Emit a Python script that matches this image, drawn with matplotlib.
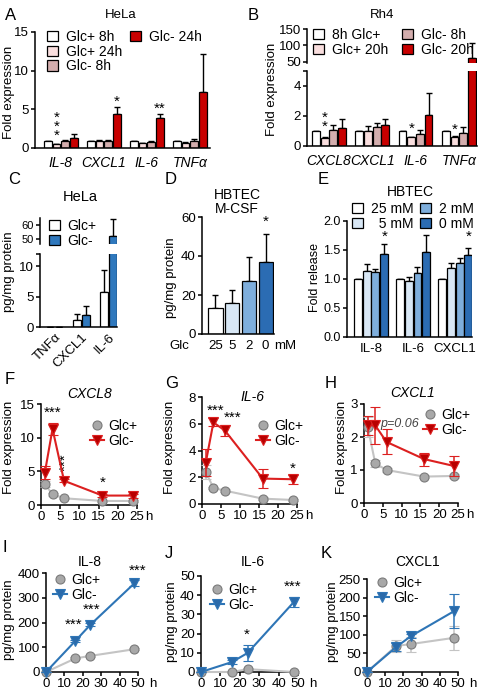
import matplotlib
matplotlib.use('Agg')
import matplotlib.pyplot as plt
import numpy as np
from matplotlib.patches import Patch
from matplotlib.lines import Line2D

plt.rcParams['font.family'] = ['Liberation Sans', 'DejaVu Sans']
plt.rcParams['font.size'] = 9.5
plt.rcParams['axes.linewidth'] = 1.1
for k in ['xtick', 'ytick']:
    plt.rcParams[k + '.major.width'] = 1.1
    plt.rcParams[k + '.major.size'] = 3
    plt.rcParams[k + '.major.pad'] = 1.5
    plt.rcParams[k + '.labelsize'] = 9.5

# ---------------- data ----------------
# A: HeLa qPCR
a_genes = ['IL-8', 'CXCL1', 'IL-6', 'TNFα']
a_labels = ['Glc+ 8h', 'Glc+ 24h', 'Glc- 8h', 'Glc- 24h']
a_vals = [[0.9, 0.9, 0.9, 0.9],
          [0.5, 0.85, 0.6, 0.7],
          [0.95, 0.9, 0.75, 0.85],
          [1.35, 4.35, 3.85, 7.3]]
a_err = [[0.0, 0.0, 0.0, 0.0],
         [0.05, 0.15, 0.05, 0.08],
         [0.1, 0.1, 0.12, 0.3],
         [0.4, 0.95, 0.5, 4.9]]

# B: Rh4 qPCR
b_genes = ['CXCL8', 'CXCL1', 'IL-6', 'TNFα']
b_labels = ['8h Glc+', 'Glc+ 20h', 'Glc- 8h', 'Glc- 20h']
b_vals = [[1.0, 0.95, 0.95, 0.95],
          [0.5, 1.0, 0.55, 0.6],
          [1.05, 1.25, 0.75, 0.85],
          [1.2, 1.35, 2.05, 62.5]]
b_err = [[0.0, 0.0, 0.0, 0.0],
         [0.05, 0.3, 0.05, 0.05],
         [0.35, 0.25, 0.3, 0.4],
         [0.55, 0.45, 1.45, 45.0]]

# C: HeLa ELISA
c_cats = ['TNFα', 'CXCL1', 'IL-6']
c_glcp = [0, 1.2, 5.8]
c_glcp_err = [0, 1.0, 3.7]
c_glcm = [0, 2.0, 52.0]
c_glcm_err = [0, 1.5, 12.5]

# D: HBTEC M-CSF
d_conc = ['25', '5', '2', '0']
d_vals = [13.2, 15.8, 27.3, 36.9]
d_err = [6.8, 6.8, 12.0, 14.6]

# E: HBTEC fold release
e_cyto = ['IL-8', 'IL-6', 'CXCL1']
e_labels = ['25 mM', '\u20075 mM', '2 mM', '0 mM']
e_vals = [[1.0, 1.0, 1.0],
          [1.14, 0.96, 1.19],
          [1.12, 1.1, 1.28],
          [1.43, 1.46, 1.41]]
e_err = [[0, 0, 0],
         [0.12, 0.07, 0.08],
         [0.06, 0.1, 0.09],
         [0.17, 0.3, 0.13]]

# F-H: time course qPCR (h)
t_q = [1, 3, 6, 16, 24]
f_glcp = [3.1, 1.6, 1.0, 0.6, 0.6]
f_glcp_err = [0.5, 0.2, 0.1, 0.1, 0.1]
f_glcm = [4.8, 11.3, 3.6, 1.4, 1.4]
f_glcm_err = [1.0, 0.9, 0.2, 0.2, 0.3]
g_glcp = [2.4, 1.2, 1.0, 0.4, 0.3]
g_glcp_err = [0.5, 0.1, 0.1, 0.1, 0.1]
g_glcm = [3.1, 6.1, 5.5, 1.9, 1.85]
g_glcm_err = [1.0, 0.3, 0.4, 0.7, 0.35]
h_glcp = [2.3, 1.2, 1.0, 0.8, 0.82]
h_glcp_err = [0.3, 0.1, 0.05, 0.05, 0.05]
h_glcm = [2.35, 2.35, 1.85, 1.33, 1.12]
h_glcm_err = [0.3, 0.55, 0.38, 0.2, 0.3]

# I-K: time course ELISA (h)
t_e = [0, 16, 24, 48]
i_glcp = [0, 55, 65, 92]
i_glcp_err = [0, 4, 4, 5]
i_glcm = [0, 126, 190, 358]
i_glcm_err = [0, 5, 6, 12]
j_glcp = [0, 0, 1.5, 0]
j_glcp_err = [0, 0.3, 0.5, 0.3]
j_glcm = [0, 5.2, 9.9, 36.6]
j_glcm_err = [0, 1.0, 4.0, 2.5]
k_glcp = [0, 70, 75, 92]
k_glcp_err = [0, 15, 20, 33]
k_glcm = [0, 67, 96, 164]
k_glcm_err = [0, 10, 5, 47]

# colours
reds = ['#ffffff', '#f9dede', '#d4aeae', '#c80000']
blues = ['#ffffff', '#d8e7f5', '#7eaedc', '#2b6cb3']
c_blue = '#2f78bd'
gray_fill, gray_edge, gray_line = '#a8a8a8', '#7a7a7a', '#c4c4c4'
red_line, red_fill = '#dc2020', '#b80000'
blue_line, blue_fill = '#2e75b6', '#2a6aaa'

W, H = 483, 693
fig = plt.figure(figsize=(W / 100, H / 100), dpi=100)


def add_ax(x0, y0, x1, y1):
    ax = fig.add_axes([x0 / W, 1 - y1 / H, (x1 - x0) / W, (y1 - y0) / H])
    ax.spines[['top', 'right']].set_visible(False)
    return ax


def ftext(x, y, s, **kw):
    fig.text(x / W, 1 - y / H, s, **kw)


def fleg(ax, handles, labels, x, y, ncol=1, **kw):
    opts = dict(loc='upper left', bbox_to_anchor=(x / W, 1 - y / H),
                bbox_transform=fig.transFigure, ncol=ncol, frameon=False,
                handlelength=0.8, handleheight=0.8, handletextpad=0.55,
                labelspacing=0.05, columnspacing=0.6, borderpad=0,
                borderaxespad=0, fontsize=10)
    opts.update(kw)
    return ax.legend(handles, labels, **opts)


def grouped_bars(ax, vals, errs, colors, width, offsets):
    x = np.arange(len(vals[0]))
    for s in range(len(vals)):
        ax.bar(x + offsets[s], vals[s], width * 0.9, color=colors[s],
               edgecolor='black', linewidth=0.9, zorder=2)
        ax.errorbar(x + offsets[s], vals[s],
                    yerr=[np.zeros(len(errs[s])), errs[s]], fmt='none',
                    ecolor='black', elinewidth=1.0, capsize=2.5, capthick=1.0,
                    zorder=1)
    return x


def star(ax, x, y, s, **kw):
    ax.text(x, y, s, ha='center', va='center', fontsize=11,
            clip_on=False, **kw)


def hlabel(ax, x, s, dx):
    ax.annotate(s, xy=(x, 0), xycoords=('data', 'axes fraction'),
                xytext=(dx, -4.5), textcoords='offset points',
                ha='left', va='top', fontsize=9.5, annotation_clip=False)


# ---------------- A ----------------
axA = add_ax(35, 32, 210, 148)
offs4 = [-0.3, -0.1, 0.1, 0.3]
x = grouped_bars(axA, a_vals, a_err, reds, 0.2, offs4)
axA.set_xlim(-0.6, 3.47)
axA.set_ylim(0, 15)
axA.set_yticks([0, 5, 10, 15])
axA.set_xticks(x)
axA.set_xticklabels(a_genes, fontstyle='italic', fontsize=10)
axA.tick_params(axis='x', length=0, pad=6)
star(axA, -0.1, 2.8, '*\n*\n*', linespacing=0.55)
star(axA, 1.3, 6.0, '*')
star(axA, 2.3, 5.1, '**')
fleg(axA, [Patch(facecolor=c, edgecolor='black', lw=0.9) for c in reds] +
     [Patch(visible=False)] * 2, a_labels + ['', ''], 47, 30, ncol=2)
ftext(121, 15, 'HeLa', ha='center', va='center', fontsize=9.5)
ftext(5, 15, 'A', ha='left', va='center', fontsize=12)
ftext(9, 92, 'Fold expression', rotation=90, ha='center', va='center')

# ---------------- B (broken axis) ----------------
axBt = add_ax(307, 29.3, 477, 63.3)
axBb = add_ax(307, 70.7, 477, 145.7)
for ax in (axBt, axBb):
    x = grouped_bars(ax, b_vals, b_err, reds, 0.2, offs4)
    ax.set_xlim(-0.51, 3.42)
axBt.set_ylim(45, 150)
axBt.set_yticks([50, 100, 150])
axBt.spines['bottom'].set_visible(False)
axBt.set_xticks([])
axBb.set_ylim(0, 5)
axBb.set_yticks([0, 2, 4, 5])
axBb.set_yticklabels(['0', '2', '4', ''])
axBb.set_xticks(x)
axBb.set_xticklabels(b_genes, fontstyle='italic', fontsize=10)
axBb.tick_params(axis='x', length=0, pad=6)
star(axBb, -0.1, 1.55, '*\n*', linespacing=0.55)
star(axBb, 1.9, 1.1, '*')
star(axBb, 2.9, 1.05, '*')
fleg(axBt, [Patch(facecolor=c, edgecolor='black', lw=0.9) for c in reds],
     b_labels, 313, 28, ncol=2, columnspacing=1.0)
ftext(382, 15, 'Rh4', ha='center', va='center', fontsize=9.5)
ftext(248, 15, 'B', ha='left', va='center', fontsize=12)
ftext(272, 89, 'Fold expression', rotation=90, ha='center', va='center')

# ---------------- C (broken axis) ----------------
axCt = add_ax(40, 218, 117, 244)
axCb = add_ax(40, 254.3, 117, 327.3)
for ax in (axCt, axCb):
    x = grouped_bars(ax, [c_glcp, c_glcm], [c_glcp_err, c_glcm_err],
                     ['#ffffff', c_blue], 0.33, [-0.17, 0.17])
    ax.set_xlim(-0.55, 2.32)
axCt.set_ylim(46, 65)
axCt.set_yticks([50, 60])
axCt.tick_params(axis='y', labelsize=8)
axCt.spines['bottom'].set_visible(False)
axCt.set_xticks([])
axCb.set_ylim(0, 12)
axCb.set_yticks([0, 5, 10, 12])
axCb.set_yticklabels(['0', '5', '10', ''])
axCb.set_xticks(x)
axCb.set_xticklabels(c_cats, rotation=45, ha='right', rotation_mode='anchor')
axCb.tick_params(axis='x', length=0, pad=3)
fleg(axCt, [Patch(facecolor=c, edgecolor='black', lw=0.9)
            for c in ['#ffffff', c_blue]], ['Glc+', 'Glc-'], 49, 219)
ftext(80, 197, 'HeLa', ha='center', va='center', fontsize=10.5)
ftext(8, 180, 'C', ha='left', va='center', fontsize=12)
ftext(9, 272, 'pg/mg protein', rotation=90, ha='center', va='center')

# ---------------- D ----------------
axD = add_ax(202, 217, 274, 334)
xd = np.arange(len(d_vals))
axD.bar(xd, d_vals, 0.85, color=blues, edgecolor='black', linewidth=0.9,
        zorder=2)
axD.errorbar(xd, d_vals, yerr=[np.zeros(4), d_err], fmt='none',
             ecolor='black', elinewidth=1.0, capsize=2.5, zorder=1)
axD.set_xlim(-0.8, 3.5)
axD.set_ylim(0, 60)
axD.set_yticks([0, 20, 40, 60])
axD.set_xticks(xd)
axD.set_xticklabels(d_conc)
axD.tick_params(axis='x', length=0, pad=4)
hlabel(axD, 3, 'mM', 6)
axD.annotate('Glc', xy=(0, 0), xycoords='axes fraction', xytext=(-9, -4),
             textcoords='offset points', ha='right', va='top', fontsize=9.5)
star(axD, 3, 57.5, '*')
ftext(237, 195, 'HBTEC', ha='center', va='center', fontsize=10)
ftext(237, 209, 'M-CSF', ha='center', va='center', fontsize=10)
ftext(165, 180, 'D', ha='left', va='center', fontsize=12)
ftext(171, 278, 'pg/mg protein', rotation=90, ha='center', va='center')

# ---------------- E ----------------
axE = add_ax(347, 221, 472, 337)
x = grouped_bars(axE, e_vals, e_err, blues, 0.21, [-0.315, -0.105, 0.105, 0.315])
axE.set_xlim(-0.57, 2.4)
axE.set_ylim(0, 2.0)
axE.set_yticks([0, 0.5, 1.0, 1.5, 2.0])
axE.set_yticklabels(['0.0', '0.5', '1.0', '1.5', '2.0'], fontsize=9)
axE.set_xticks(x)
axE.set_xticklabels(e_cyto)
axE.tick_params(axis='x', length=0, pad=4)
star(axE, 0.315, 1.72, '*')
star(axE, 2.315, 1.72, '*')
fleg(axE, [Patch(facecolor=c, edgecolor='black', lw=0.9) for c in blues],
     e_labels, 352, 202, ncol=2, columnspacing=0.5)
ftext(410, 192, 'HBTEC', ha='center', va='center', fontsize=10)
ftext(318, 180, 'E', ha='left', va='center', fontsize=12)
ftext(315, 278, 'Fold release', rotation=90, ha='center', va='center',
      fontsize=9)


# ---------------- line panels ----------------
def course(ax, t, yp, ep, ym, em, mline, mfill, marker_m):
    ax.errorbar(t, yp, yerr=ep, color=gray_line, lw=1.5, marker='o',
                ms=6.5, mfc=gray_fill, mec=gray_edge, mew=0.8,
                ecolor=gray_line, elinewidth=1.1, capsize=3.5, zorder=3,
                clip_on=False, label='Glc+')
    ax.errorbar(t, ym, yerr=em, color=mline, lw=1.5, marker=marker_m,
                ms=7.5, mfc=mfill, mec=mline, mew=0.8, ecolor=mline,
                elinewidth=1.1, capsize=3.5, zorder=4, clip_on=False,
                label='Glc-')


def line_handles(mline, mfill, marker_m):
    return [Line2D([], [], color='none', marker='o', ms=6.5, mfc=gray_fill,
                   mec=gray_edge, mew=0.8),
            Line2D([], [], color=mline, lw=1.5, marker=marker_m, ms=7.5,
                   mfc=mfill, mec=mline, mew=0.8)]


def lleg(ax, h, x, y):
    fleg(ax, h, ['Glc+', 'Glc-'], x, y, handlelength=1.0,
         handletextpad=0.3, labelspacing=0.1, fontsize=10)


# F
axF = add_ax(41, 404, 137, 505)
course(axF, t_q, f_glcp, f_glcp_err, f_glcm, f_glcm_err, red_line, red_fill, 'v')
axF.set_xlim(0, 25)
axF.set_ylim(0, 15)
axF.set_xticks([0, 5, 10, 15, 20, 25])
axF.set_yticks([0, 5, 10, 15])
hlabel(axF, 25, 'h', 5.5)
star(axF, 3, 13.7, '***')
star(axF, 6.4, 6.3, '***', rotation=90)
star(axF, 16, 3.3, '*')
lleg(axF, line_handles(red_line, red_fill, 'v'), 90, 419)
ftext(90, 394, 'CXCL8', ha='center', va='center', fontstyle='italic',
      fontsize=10)
ftext(5, 380, 'F', ha='left', va='center', fontsize=12)
ftext(9, 447, 'Fold expression', rotation=90, ha='center', va='center')

# G
axG = add_ax(202, 397, 297, 504)
course(axG, t_q, g_glcp, g_glcp_err, g_glcm, g_glcm_err, red_line, red_fill, 'v')
axG.set_xlim(0, 25)
axG.set_ylim(0, 8)
axG.set_xticks([0, 5, 10, 15, 20, 25])
axG.set_yticks([0, 2, 4, 6, 8])
hlabel(axG, 25, 'h', 5.5)
star(axG, 3.5, 7.0, '***')
star(axG, 8.0, 6.45, '***')
star(axG, 24, 2.6, '*')
lleg(axG, line_handles(red_line, red_fill, 'v'), 256, 419)
ftext(252, 397, 'IL-6', ha='center', va='center', fontstyle='italic',
      fontsize=10)
ftext(165, 383, 'G', ha='left', va='center', fontsize=12)
ftext(170, 447, 'Fold expression', rotation=90, ha='center', va='center')

# H
axH = add_ax(364, 404, 458, 503)
course(axH, t_q, h_glcp, h_glcp_err, h_glcm, h_glcm_err, red_line, red_fill, 'v')
axH.set_xlim(0, 25)
axH.set_ylim(0, 3)
axH.set_xticks([0, 5, 10, 15, 20, 25])
axH.set_yticks([0, 1, 2, 3])
hlabel(axH, 25, 'h', 5.5)
axH.text(4.3, 2.4, 'p=0.06', fontstyle='italic', fontsize=9,
         color='#444444', ha='left', va='center')
lleg(axH, line_handles(red_line, red_fill, 'v'), 423, 408)
ftext(413, 393, 'CXCL1', ha='center', va='center', fontstyle='italic',
      fontsize=10)
ftext(325, 383, 'H', ha='left', va='center', fontsize=12)
ftext(342, 447, 'Fold expression', rotation=90, ha='center', va='center')

# I
axI = add_ax(46, 573, 138, 672)
course(axI, t_e, i_glcp, i_glcp_err, i_glcm, i_glcm_err, blue_line, blue_fill, 'v')
axI.set_xlim(0, 50)
axI.set_ylim(0, 400)
axI.set_xticks([0, 10, 20, 30, 40, 50])
axI.set_yticks([0, 100, 200, 300, 400])
hlabel(axI, 50, 'h', 8)
star(axI, 15, 192, '***')
star(axI, 25, 250, '***')
star(axI, 50, 410, '***')
lleg(axI, line_handles(blue_line, blue_fill, 'v'), 53, 573)
ftext(90, 562, 'IL-8', ha='center', va='center', fontsize=10)
ftext(2, 547, 'I', ha='left', va='center', fontsize=12)
ftext(9, 620, 'pg/mg protein', rotation=90, ha='center', va='center')

# J
axJ = add_ax(201, 576, 298, 672)
course(axJ, t_e, j_glcp, j_glcp_err, j_glcm, j_glcm_err, blue_line, blue_fill, 'v')
axJ.set_xlim(0, 50)
axJ.set_ylim(0, 50)
axJ.set_xticks([0, 10, 20, 30, 40, 50])
axJ.set_yticks([0, 10, 20, 30, 40, 50])
hlabel(axJ, 50, 'h', 8)
star(axJ, 23.5, 19.5, '*')
star(axJ, 47, 44.5, '***')
lleg(axJ, line_handles(blue_line, blue_fill, 'v'), 210, 583)
ftext(253, 562, 'IL-6', ha='center', va='center', fontsize=10)
ftext(165, 553, 'J', ha='left', va='center', fontsize=12)
ftext(172, 622, 'pg/mg protein', rotation=90, ha='center', va='center')

# K
axK = add_ax(367, 579, 458, 672)
course(axK, t_e, k_glcp, k_glcp_err, k_glcm, k_glcm_err, blue_line, blue_fill, 'v')
axK.set_xlim(0, 50)
axK.set_ylim(0, 250)
axK.set_xticks([0, 10, 20, 30, 40, 50])
axK.set_yticks([0, 50, 100, 150, 200, 250])
hlabel(axK, 50, 'h', 8)
lleg(axK, line_handles(blue_line, blue_fill, 'v'), 375, 576)
ftext(418, 562, 'CXCL1', ha='center', va='center', fontsize=10)
ftext(321, 553, 'K', ha='left', va='center', fontsize=12)
ftext(333, 622, 'pg/mg protein', rotation=90, ha='center', va='center')

fig.savefig('out.png', dpi=100)
